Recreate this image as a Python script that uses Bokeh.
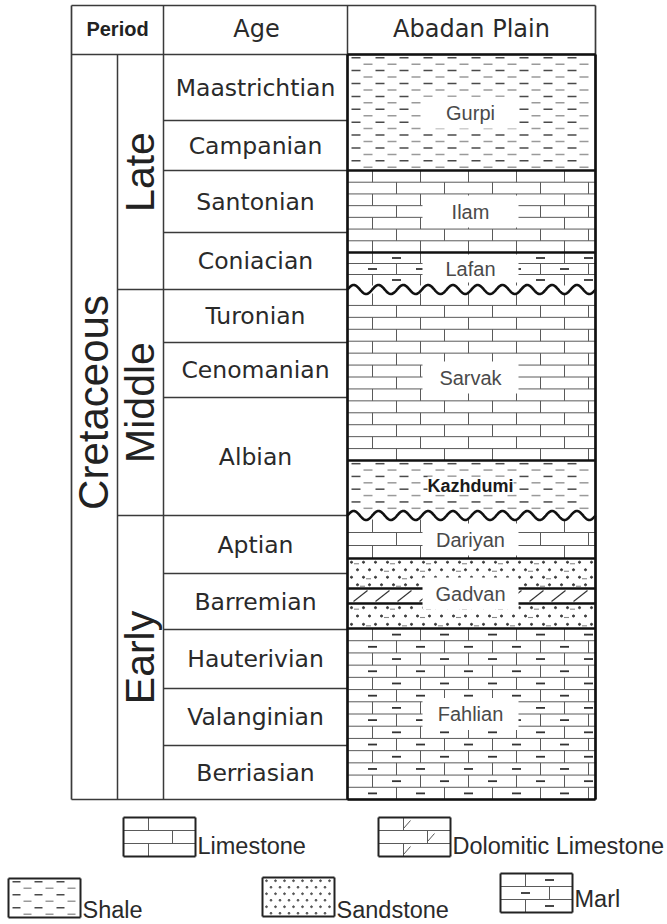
import numpy as np
from bokeh.plotting import figure
from bokeh.models import Range1d
from bokeh.core.properties import value
from bokeh.embed import file_html
from bokeh.resources import INLINE

# ---------------- stratigraphic data (depth units down the column, 0 = top) ----------------
period_name = "Cretaceous"

epochs = ["Late", "Middle", "Early"]
epoch_top = [0, 235, 461]
epoch_base = [235, 461, 745]

ages = ["Maastrichtian", "Campanian", "Santonian", "Coniacian", "Turonian", "Cenomanian",
        "Albian", "Aptian", "Barremian", "Hauterivian", "Valanginian", "Berriasian"]
age_top = [0, 66, 116, 178, 235, 288, 343, 461, 519, 575, 634, 691]
age_base = [66, 116, 178, 235, 288, 343, 461, 519, 575, 634, 691, 745]

formations = ["Gurpi", "Ilam", "Lafan", "Sarvak", "Kazhdumi", "Dariyan", "Gadvan", "Fahlian"]
formation_top = [0, 116, 198, 235, 406, 461, 504, 574]
formation_base = [116, 198, 235, 406, 461, 504, 574, 745]
formation_lith = ["shale", "limestone", "marl", "limestone", "shale", "limestone", "sandstone", "marl"]

unconformities = [235, 461]          # erosional surfaces (wavy contacts)
dolomite_bed = [534, 549]            # dolomitic limestone bed inside the Gadvan

legend_names = ["Limestone", "Dolomitic Limestone", "Shale", "Sandstone", "Marl"]
legend_lith = ["limestone", "dolomitic", "shale", "sandstone", "marl"]

column_title = ["Period", "Age", "Abadan Plain"]

# ---------------- layout (pixels across, depth units down) ----------------
X0, X1, X2, X3, X4 = 71, 117, 163, 347, 595
HEAD_TOP = -49
COL_BASE = 745

p = figure(width=667, height=924, x_range=Range1d(0, 667), y_range=Range1d(870, -54),
           output_backend="svg", toolbar_location=None,
           x_axis_location=None, y_axis_location=None, min_border=0,
           outline_line_color=None, background_fill_color="white",
           border_fill_color="white")
p.grid.visible = False

segs = {}
dots_x, dots_y = [], []


def seg(x0, y0, x1, y1, color="#5a5a5a", w=1.0):
    d = segs.setdefault((color, w), ([], [], [], []))
    d[0].append(x0); d[1].append(y0); d[2].append(x1); d[3].append(y1)


def flush(dot_size=2.2, dot_color="#444444"):
    for (col, w), (a, b, c, d) in segs.items():
        p.segment(a, b, c, d, line_color=col, line_width=w)
    segs.clear()
    if dots_x:
        p.scatter(list(dots_x), list(dots_y), size=dot_size, color=dot_color, marker="circle")
    dots_x.clear(); dots_y.clear()


def brick_fill(xl, xr, yt, yb, row=12.0, brick=48.0, phase=25.0, marl=False, dolo=False):
    n = max(1, int(round((yb - yt) / row)))
    h = (yb - yt) / n
    for i in range(1, n):
        seg(xl, yt + i * h, xr, yt + i * h)
    for i in range(n):
        y0, y1 = yt + i * h, yt + (i + 1) * h
        off = phase if i % 2 == 0 else phase + brick / 2
        for k in range(-2, int((xr - xl) / brick) + 3):
            x = xl + off + k * brick
            if xl + 1.5 < x < xr - 1.5:
                seg(x, y0, x, y1)
                if dolo:
                    seg(x, y1 - 2, x + 7, y0 + 3, "#555555", 1.0)
            cx = x + brick / 2
            if marl and xl + 5 < cx < xr - 5:
                seg(cx - 4.5, (y0 + y1) / 2, cx + 4.5, (y0 + y1) / 2, "#333333", 1.8)


def shale_fill(xl, xr, yt, yb, row=6.4, period=24.0, dlen=9.0):
    n = max(1, int(round((yb - yt) / row)))
    h = (yb - yt) / n
    for i in range(n):
        y = yt + (i + 0.5) * h
        off = 4 if i % 2 == 0 else 4 + period / 2
        col = "#4a4a4a" if i % 2 == 0 else "#9a9a9a"
        x = xl + off
        while x + dlen < xr - 1:
            seg(x, y, x + dlen, y, col, 1.5)
            x += period


def sand_fill(xl, xr, yt, yb, dx=11.0, row=7.5, hooks=True):
    n = max(1, int(round((yb - yt) / row)))
    h = (yb - yt) / n
    for i in range(n):
        y = yt + (i + 0.5) * h
        off = 4 if i % 2 == 0 else 4 + dx / 2
        x = xl + off
        j = 0
        while x < xr - 2:
            dots_x.append(x); dots_y.append(y)
            if hooks and (i + j) % 3 == 0 and x + 8 < xr:
                seg(x + 2.5, y + 1.5, x + 7.5, y + 1.5, "#888888", 1.1)
            x += dx
            j += 1


def wave(xl, xr, y0, amp=4.5, cycles=10):
    xs = np.linspace(xl, xr, 500)
    ys = y0 - amp * np.sin(2 * np.pi * cycles * (xs - xl) / (xr - xl))
    p.line(xs, ys, line_color="#111111", line_width=2.6)


# ---------------- formation column fills ----------------
for name, top, base, lith in zip(formations, formation_top, formation_base, formation_lith):
    t = top + (4 if top in unconformities else 0)
    b = base - (4 if base in unconformities else 0)
    if lith == "shale":
        shale_fill(X3, X4, t, b)
    elif lith == "limestone":
        brick_fill(X3, X4, t, b)
    elif lith == "marl":
        brick_fill(X3, X4, t, b, marl=True)
    elif lith == "sandstone":
        sand_fill(X3, X4, t, dolomite_bed[0], dx=12, row=8)
        sand_fill(X3, X4, dolomite_bed[1], b, dx=12, row=8)
        for yy in dolomite_bed:
            seg(X3, yy, X4, yy, "#111111", 2.4)
        x = X3 + 6
        while x + 14 < X4:
            seg(x, dolomite_bed[1] - 2, x + 14, dolomite_bed[0] + 2, "#333333", 1.2)
            x += 22
flush(dot_size=2.1, dot_color="#3a3a3a")

# white panels behind formation names
lab_x, lab_y, lab_w, lab_h = [], [], [], []
for name, top, base in zip(formations, formation_top, formation_base):
    t = top + (5 if top in unconformities else 0)
    b = base - (5 if base in unconformities else 0)
    cy = (t + b) / 2
    hh = min(32, b - t - 4)
    w = 96
    if name == "Kazhdumi":
        w, hh = 86, 18
    lab_x.append((X3 + X4) / 2 - 1); lab_y.append(cy); lab_w.append(w); lab_h.append(hh)
p.rect(lab_x, lab_y, lab_w, lab_h, fill_color="white", line_color=None)

# formation contacts
for top in formation_top[1:]:
    if top in unconformities:
        wave(X3, X4, top)
    else:
        p.segment([X3], [top], [X4], [top], line_color="#111111", line_width=2.6)

normal_idx = [i for i, n in enumerate(formations) if n != "Kazhdumi"]
p.text([lab_x[i] for i in normal_idx], [lab_y[i] for i in normal_idx],
       [formations[i] for i in normal_idx],
       text_font=value("Liberation Sans"), text_font_size="20px", text_color="#4a4a4a",
       text_align="center", text_baseline="middle")
k = formations.index("Kazhdumi")
p.text([lab_x[k]], [lab_y[k]], ["Kazhdumi"], text_font=value("Liberation Sans"),
       text_font_size="18px", text_font_style="bold", text_color="#1a1a1a",
       text_align="center", text_baseline="middle")

# ---------------- table grid ----------------
grid = "#3a3a3a"
p.segment([X0, X4, X0, X0], [HEAD_TOP, HEAD_TOP, HEAD_TOP, COL_BASE],
          [X0, X4, X4, X4], [COL_BASE, COL_BASE, HEAD_TOP, COL_BASE],
          line_color=grid, line_width=1.7)
p.segment([X0, X2, X3, X1], [0, HEAD_TOP, HEAD_TOP, 0],
          [X4, X2, X3, X1], [0, COL_BASE, COL_BASE, COL_BASE],
          line_color=grid, line_width=1.5)
p.segment([X1] * 2, epoch_top[1:], [X2] * 2, epoch_top[1:], line_color=grid, line_width=1.5)
p.segment([X2] * (len(ages) - 1), age_top[1:], [X3] * (len(ages) - 1), age_top[1:],
          line_color=grid, line_width=1.5)
# heavy frame of the lithology column
p.segment([X3, X4, X3, X3], [0, 0, 0, COL_BASE], [X3, X4, X4, X4], [COL_BASE, COL_BASE, 0, COL_BASE],
          line_color="#111111", line_width=2.6)

# ---------------- texts ----------------
p.text([(X0 + X2) / 2], [-26], [column_title[0]], text_font=value("Liberation Sans"),
       text_font_size="20px", text_font_style="bold", text_color="#222222",
       text_align="center", text_baseline="middle")
p.text([(X2 + X3) / 2 + 1, (X3 + X4) / 2], [-26, -26], column_title[1:], text_font=value("DejaVu Sans"),
       text_font_size="24px", text_color="#2a2a2a", text_align="center", text_baseline="middle")

p.text([(X2 + X3) / 2] * len(ages), [(t + b) / 2 for t, b in zip(age_top, age_base)], ages,
       text_font=value("DejaVu Sans"), text_font_size="23.5px", text_color="#2a2a2a",
       text_align="center", text_baseline="middle")

p.text([(X1 + X2) / 2 - 1] * 3, [(t + b) / 2 for t, b in zip(epoch_top, epoch_base)], epochs,
       angle=np.pi / 2, text_font=value("Liberation Sans"), text_font_size="41px",
       text_color="#222222", text_align="center", text_baseline="middle")
p.text([(X0 + X1) / 2 - 1], [348], [period_name], angle=np.pi / 2,
       text_font=value("Liberation Sans"), text_font_size="42px", text_color="#222222",
       text_align="center", text_baseline="middle")

# ---------------- legend ----------------
leg_left = [123, 378, 8, 262, 500]
leg_top = [763, 763, 824, 823, 819]
leg_text_y = [791, 791, 855, 855, 844]
LW, LH = 72, 39
for name, lith, lx, lt in zip(legend_names, legend_lith, leg_left, leg_top):
    xl, xr, yt, yb = lx, lx + LW, lt, lt + LH
    if lith == "limestone":
        brick_fill(xl, xr, yt, yb, row=13, phase=25)
    elif lith == "dolomitic":
        brick_fill(xl, xr, yt, yb, row=13, phase=25, dolo=True)
    elif lith == "marl":
        brick_fill(xl, xr, yt, yb, row=13, phase=25, marl=True)
    elif lith == "shale":
        shale_fill(xl, xr, yt, yb, row=6.5, period=22, dlen=8)
    elif lith == "sandstone":
        sand_fill(xl, xr, yt, yb, dx=9, row=7, hooks=False)
    seg(xl, yt, xr, yt, "#222222", 2.2)
    seg(xl, yb, xr, yb, "#222222", 2.2)
    seg(xl, yt, xl, yb, "#222222", 2.0)
    seg(xr, yt, xr, yb, "#222222", 2.0)
flush(dot_size=1.8, dot_color="#555555")

p.text([lx + LW + 2 for lx in leg_left], leg_text_y, legend_names,
       text_font=value("Liberation Sans"), text_font_size="23.5px", text_color="#2a2a2a",
       text_align="left", text_baseline="middle")

open("out.html", "w").write(file_html(p, INLINE))
